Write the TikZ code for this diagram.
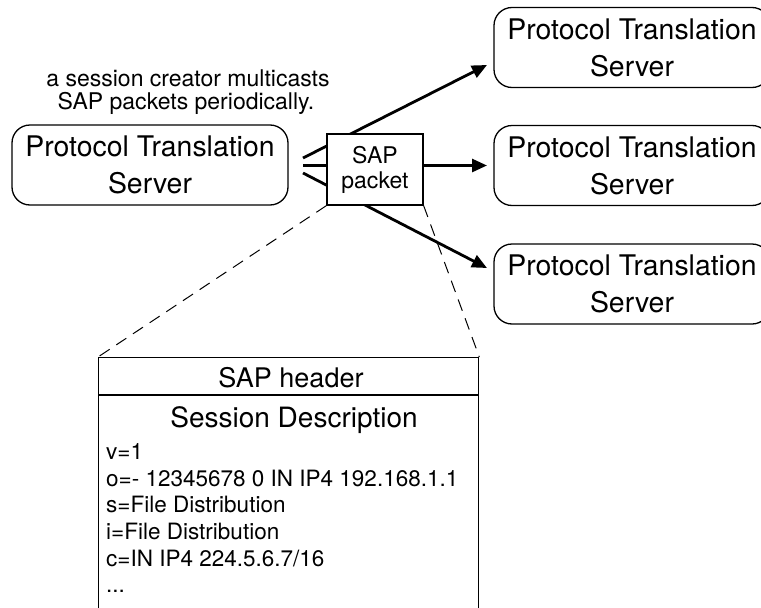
\documentclass[tikz,border=0pt]{standalone}
\usepackage{fontspec}
\setmainfont{TeX Gyre Heros}
\usetikzlibrary{arrows.meta}
\begin{document}
\begin{tikzpicture}[x=1pt,y=-1pt,
  server/.style={draw,line width=1.3pt,rounded corners=18pt,minimum width=276pt,minimum height=80pt,
    inner sep=0pt,align=center,font=\fontsize{28.4}{37}\selectfont},
  flow/.style={line width=2.8pt,-{Triangle[length=15pt,width=13pt]}},
  pktbox/.style={draw,line width=1.3pt,fill=white,minimum width=96pt,minimum height=71pt,
    inner sep=0pt,align=center,font=\fontsize{23}{25}\selectfont},
  zoomline/.style={line width=1pt,dash pattern=on 12pt off 8pt},
  caption/.style={anchor=base,inner sep=0pt,font=\fontsize{23}{24}\selectfont},
  sdpline/.style={anchor=base west,inner sep=0pt,font=\fontsize{22.5}{24}\selectfont},
  title/.style={anchor=base,inner sep=0pt,font=\fontsize{27}{30}\selectfont}]
\useasboundingbox (0,0) rectangle (761,608);
\clip (0,0) rectangle (761,608);

% sender and the three receivers
\node[server] (src) at (150,165) {Protocol Translation\\Server};
\node[server] (dstA) at (632,47.5) {Protocol Translation\\Server};
\node[server] (dstB) at (632,165.5) {Protocol Translation\\Server};
\node[server] (dstC) at (632,284) {Protocol Translation\\Server};

% caption above the sender
\node[caption] (cap1) at (188,86) {a session creator multicasts};
\node[caption] (cap2) at (186,109) {SAP packets periodically.};

% multicast flows
\coordinate (oA) at (303,158);
\coordinate (oB) at (303,165.5);
\coordinate (oC) at (303,173);
\coordinate (iA) at (487,65);
\coordinate (iB) at (487,165.5);
\coordinate (iC) at (487,268);
\draw[flow] (oA) -- (iA);
\draw[flow] (oB) -- (iB);
\draw[flow] (oC) -- (iC);

% the packet carried on the flows
\node[pktbox] (pkt) at (375,169.5) {SAP\\packet};

% packet contents
\node[draw,line width=1.3pt,minimum width=380pt,minimum height=280pt,inner sep=0pt,anchor=north west]
  (hdr) at (98,357) {};
\coordinate (sepL) at (98,395);
\coordinate (sepR) at (478,395);
\draw[line width=1.3pt] (sepL) -- (sepR);
\draw[zoomline] (pkt.south west) -- (hdr.north west);
\draw[zoomline] (pkt.south east) -- (hdr.north east);

\node[title] (hdrtxt) at (291,387) {SAP header};
\node[title,font=\fontsize{28}{30}\selectfont] (sdtxt) at (294,427) {Session Description};
\node[sdpline] (l1) at (106,459) {v=1};
\node[sdpline] (l2) at (106,486) {o=- 12345678 0 IN IP4 192.168.1.1};
\node[sdpline] (l3) at (106,512) {s=File Distribution};
\node[sdpline] (l4) at (106,539) {i=File Distribution};
\node[sdpline] (l5) at (106,566) {c=IN IP4 224.5.6.7/16};
\node[sdpline] (l6) at (106,592) {...};
\end{tikzpicture}
\end{document}
